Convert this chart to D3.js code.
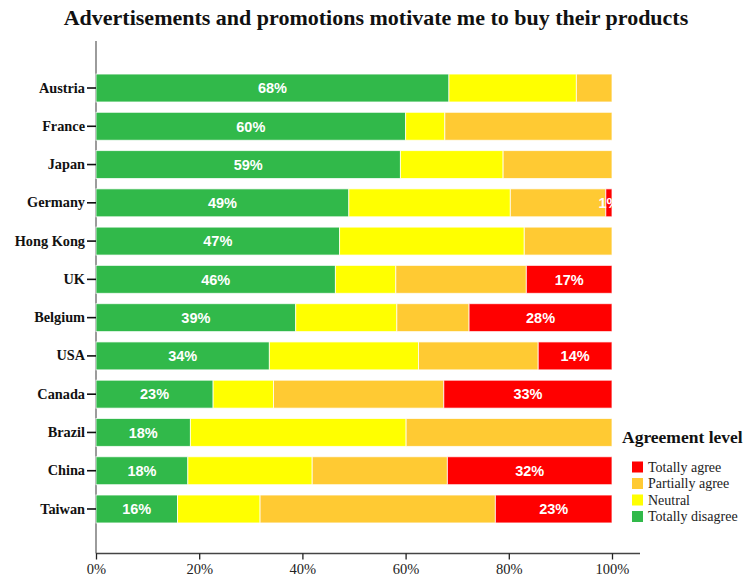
<!DOCTYPE html>
<html>
<head>
<meta charset="utf-8">
<script src="https://cdn.jsdelivr.net/npm/d3@7/dist/d3.min.js"></script>
<style>
  html, body { margin: 0; padding: 0; background: #fff; }
  svg { display: block; }
</style>
</head>
<body>
<svg id="chart" width="754" height="579"></svg>
<script>
const countries = ["Austria","France","Japan","Germany","Hong Kong","UK","Belgium","USA","Canada","Brazil","China","Taiwan"];
const totallyDisagree = [68.4, 60.0, 59.0, 49.0, 47.2, 46.4, 38.7, 33.6, 22.7, 18.3, 17.8, 15.8];
const neutral         = [24.7,  7.6, 19.9, 31.3, 35.8, 11.7, 19.6, 28.9, 11.7, 41.8, 24.1, 16.0];
const partiallyAgree  = [ 6.9, 32.4, 21.1, 18.5, 17.0, 25.3, 14.0, 23.2, 33.0, 39.9, 26.2, 45.6];
const totallyAgree    = [ 0.0,  0.0,  0.0,  1.2,  0.0, 16.6, 27.7, 14.3, 32.6,  0.0, 31.9, 22.6];
const xTicks = [0, 20, 40, 60, 80, 100];
const seriesNames = ["Totally disagree","Neutral","Partially agree","Totally agree"];
const legendOrder = ["Totally agree","Partially agree","Neutral","Totally disagree"];
const colors = {"Totally disagree":"#31B94A","Neutral":"#FFFF00","Partially agree":"#FFCA33","Totally agree":"#FF0000"};
const labelled = {"Totally disagree": true, "Totally agree": true};

const rows = countries.map((c, i) => ({
  country: c,
  "Totally disagree": totallyDisagree[i],
  "Neutral": neutral[i],
  "Partially agree": partiallyAgree[i],
  "Totally agree": totallyAgree[i]
}));

const svg = d3.select("#chart");
const serif = "'Liberation Serif', 'Times New Roman', serif";
const sans = "'Liberation Sans', Arial, sans-serif";

const x = d3.scaleLinear().domain([0, 100]).range([96, 612]);
const y = d3.scaleBand().domain(countries).range([44, 553]).paddingInner(0.27).paddingOuter(0.785);

const stack = d3.stack().keys(seriesNames);
const stacked = stack(rows);

svg.append("defs").append("clipPath").attr("id", "plotclip")
  .append("rect").attr("x", 96).attr("y", 40).attr("width", 516.5).attr("height", 513);

// Title
svg.append("text")
  .attr("x", 376).attr("y", 25)
  .attr("text-anchor", "middle")
  .attr("font-family", serif).attr("font-weight", "bold").attr("font-size", 22)
  .attr("fill", "#111")
  .text("Advertisements and promotions motivate me to buy their products");

// Y axis line (behind bars)
svg.append("line").attr("x1", 96).attr("x2", 96).attr("y1", 41).attr("y2", 553.5)
  .attr("stroke", "#666").attr("stroke-width", 1.3);

// Bars
const g = svg.append("g");
stacked.forEach(layer => {
  g.append("g").selectAll("rect")
    .data(layer.filter(d => d[1] - d[0] > 0))
    .join("rect")
    .attr("x", d => x(d[0]))
    .attr("y", d => y(d.data.country))
    .attr("width", d => x(d[1]) - x(d[0]))
    .attr("height", y.bandwidth())
    .attr("fill", colors[layer.key])
    .attr("stroke", "#ffffff")
    .attr("stroke-opacity", 0.75)
    .attr("stroke-width", 1);
});

// Labels
const lg = svg.append("g").attr("clip-path", "url(#plotclip)");
stacked.forEach(layer => {
  if (!labelled[layer.key]) return;
  lg.append("g").selectAll("text")
    .data(layer.filter(d => d[1] - d[0] > 0))
    .join("text")
    .attr("x", d => (x(d[0]) + x(d[1])) / 2)
    .attr("y", d => y(d.data.country) + y.bandwidth() / 2)
    .attr("dy", "0.36em")
    .attr("text-anchor", "middle")
    .attr("font-family", sans).attr("font-weight", "bold").attr("font-size", 14.5)
    .attr("fill", "#ffffff")
    .text(d => Math.round(d[1] - d[0]) + "%");
});

// Y axis ticks and labels
const yAxis = svg.append("g").attr("transform", "translate(96,0)")
  .call(d3.axisLeft(y).tickSize(9).tickPadding(2));
yAxis.select(".domain").remove();
yAxis.selectAll(".tick line").attr("stroke", "#111").attr("stroke-width", 1.6);
yAxis.selectAll(".tick text")
  .attr("font-family", serif).attr("font-weight", "bold").attr("font-size", 14.3)
  .attr("fill", "#111");

// X axis
const xAxis = svg.append("g").attr("transform", "translate(0,553.5)")
  .call(d3.axisBottom(x).tickValues(xTicks).tickFormat(d => d + "%").tickSize(6).tickSizeOuter(0).tickPadding(4));
xAxis.select(".domain").attr("d", "M96,0H640").attr("stroke", "#444").attr("stroke-width", 1.3);
xAxis.selectAll(".tick line").attr("stroke", "#222").attr("stroke-width", 1.3);
xAxis.selectAll(".tick text")
  .attr("font-family", serif).attr("font-size", 14.5).attr("fill", "#222");

// Legend
const leg = svg.append("g");
leg.append("text").attr("x", 622).attr("y", 443)
  .attr("font-family", serif).attr("font-weight", "bold").attr("font-size", 17.5)
  .attr("fill", "#111").text("Agreement level");
legendOrder.forEach((k, i) => {
  const cy = 467 + i * 16.5;
  leg.append("rect").attr("x", 632).attr("y", cy - 5.5).attr("width", 11).attr("height", 11)
    .attr("fill", colors[k]);
  leg.append("text").attr("x", 648).attr("y", cy).attr("dy", "0.35em")
    .attr("font-family", serif).attr("font-size", 14).attr("fill", "#222").text(k);
});
</script>
</body>
</html>
